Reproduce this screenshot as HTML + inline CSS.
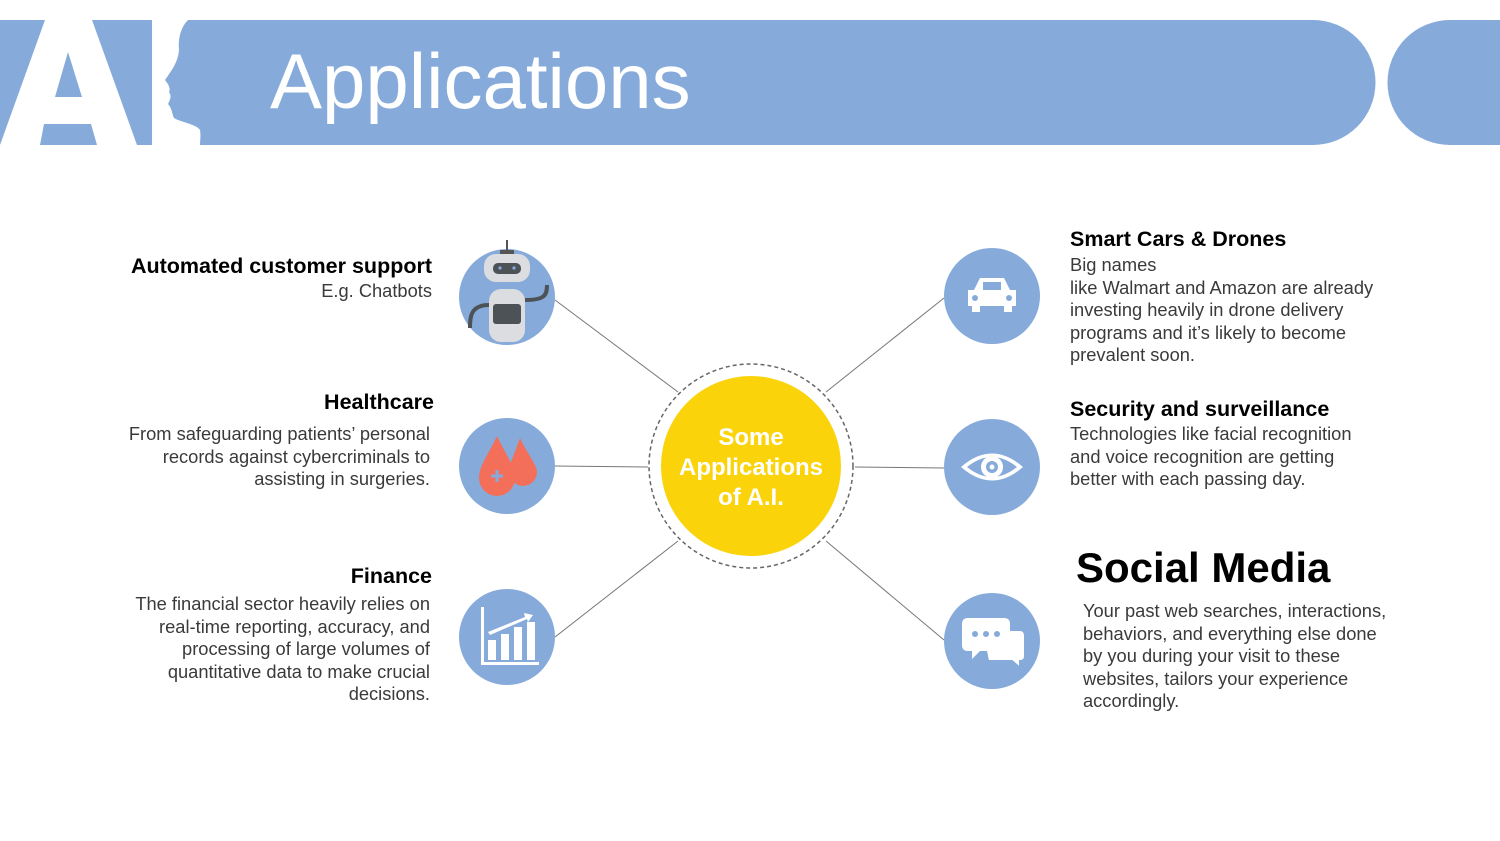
<!DOCTYPE html>
<html><head><meta charset="utf-8"><style>
body{margin:0;width:1500px;height:841px;background:#fff;position:relative;overflow:hidden;font-family:"Liberation Sans",Arial,sans-serif}
.t{position:absolute;color:#000;font-weight:bold;font-size:21.5px}
.b{position:absolute;color:#3a3a3a;font-size:18.3px;line-height:22.5px}
.r{text-align:right}
</style></head><body>
<svg width="1500" height="841" style="position:absolute;left:0;top:0">
<g>
<path d="M0 20 H1313 A62.5 62.5 0 0 1 1313 145 H0 Z" fill="#86abdb"/>
<path d="M1450 20 H1500 V145 H1450 A62.5 62.5 0 0 1 1450 20 Z" fill="#86abdb"/>
<path fill="#fff" fill-rule="evenodd" d="M45 20 H92 L137 145 H97 L91 124 H44 L40 145 H0 Z M68 52 L55 97 H82 Z"/>
<path d="M152 20 H188 C180 28 178 40 179 50 C178 62 172 70 165 80 C168 84 171 88 169 92 C172 96 170 100 168 104 C172 108 172 114 174 118 C180 122 196 124 200 130 C201 136 200 140 200 145 H152 Z" fill="#fff"/>
</g>
<g stroke="#777" stroke-width="1">
<line x1="555" y1="300" x2="678" y2="392"/><line x1="555" y1="466" x2="648" y2="467"/><line x1="555" y1="637" x2="678" y2="541"/>
<line x1="826" y1="392" x2="944" y2="298"/><line x1="855" y1="467" x2="944" y2="468"/><line x1="826" y1="541" x2="944" y2="640"/>
</g>
<circle cx="751" cy="466" r="102" fill="none" stroke="#666" stroke-width="1.5" stroke-dasharray="4 3"/>
<circle cx="751" cy="466" r="90" fill="#fad30a"/>
<text font-family="Liberation Sans" font-weight="bold" font-size="24" fill="#fff" text-anchor="middle"><tspan x="751" y="445">Some</tspan><tspan x="751" y="475">Applications</tspan><tspan x="751" y="505">of A.I.</tspan></text>
<g fill="#86abdb">
<circle cx="507" cy="297" r="48"/>
<circle cx="507" cy="466" r="48"/>
<circle cx="507" cy="637" r="48"/>
<circle cx="992" cy="296" r="48"/>
<circle cx="992" cy="467" r="48"/>
<circle cx="992" cy="641" r="48"/>
</g>
<g>
<line x1="507" y1="240" x2="507" y2="252" stroke="#555" stroke-width="2"/>
<rect x="500" y="250" width="14" height="5" fill="#555"/>
<rect x="484" y="254" width="46" height="28" rx="12" fill="#dcdde0"/>
<rect x="493" y="263" width="28" height="11" rx="5" fill="#4d5257"/>
<circle cx="500" cy="268" r="1.6" fill="#86abdb"/><circle cx="514" cy="268" r="1.6" fill="#86abdb"/>
<rect x="489" y="289" width="36" height="53" rx="12" fill="#dcdde0"/>
<rect x="493" y="304" width="28" height="20" rx="3" fill="#4d5257"/>
<path d="M489 305 C470 305 470 318 470 328" stroke="#4d5257" stroke-width="4" fill="none"/>
<path d="M525 300 C545 300 547 295 547 285" stroke="#4d5257" stroke-width="4" fill="none"/>
</g>
<path d="M520 438 C528 455 537 465 537 472 A14 14 0 0 1 509 472 C509 465 514 455 520 438Z" fill="#f36f5a"/>
<path d="M497 436 C506 455 515 466 515 478 A18 18 0 0 1 479 478 C479 466 488 455 497 436Z" fill="#f36f5a"/>
<path d="M497 470 V482 M491 476 H503" stroke="#86abdb" stroke-width="3"/>
<g fill="#fff">
<rect x="481" y="607" width="3" height="58"/><rect x="481" y="662" width="58" height="3"/>
<rect x="488" y="640" width="8" height="20"/><rect x="501" y="634" width="8" height="26"/><rect x="514" y="627" width="8" height="33"/><rect x="527" y="622" width="8" height="38"/>
<path d="M488 632 L525 617 L524 613 L533 615 L528 622 L527 619 L490 635Z"/>
</g>
<g fill="#fff">
<path d="M974 290 L980 278 H1004 L1010 290 H1016 V306 H968 V290Z"/>
<rect x="972" y="306" width="8" height="6"/><rect x="1004" y="306" width="8" height="6"/>
<rect x="983" y="282" width="18" height="8" fill="#86abdb"/>
<circle cx="975" cy="298" r="3" fill="#86abdb"/><circle cx="1009" cy="298" r="3" fill="#86abdb"/>
</g>
<path d="M961 467 Q992 440 1023 467 Q992 494 961 467Z" fill="#fff"/>
<path d="M967 467 Q992 447 1017 467 Q992 487 967 467Z" fill="#86abdb"/>
<circle cx="992" cy="467" r="11" fill="#fff"/><circle cx="992" cy="467" r="6" fill="#86abdb"/><circle cx="992" cy="467" r="2.5" fill="#fff"/>
<g>
<path d="M982 630 H1020 Q1025 630 1025 636 V656 Q1025 661 1020 661 V668 L1012 661 H988 Z" fill="#fff" stroke="#86abdb" stroke-width="2"/>
<path d="M968 618 H1004 Q1010 618 1010 624 V645 Q1010 651 1004 651 H980 L972 659 V651 H968 Q962 651 962 645 V624 Q962 618 968 618Z" fill="#fff"/>
<circle cx="975" cy="634" r="3" fill="#86abdb"/><circle cx="986" cy="634" r="3" fill="#86abdb"/><circle cx="997" cy="634" r="3" fill="#86abdb"/>
</g>
</svg>
<div style="position:absolute;left:270px;top:36px;color:#fff;font-size:78px;line-height:90px">Applications</div>

<div class="t r" style="right:1068px;top:254px">Automated customer support</div>
<div class="b r" style="right:1068px;top:280px">E.g. Chatbots</div>
<div class="t r" style="right:1066px;top:390px">Healthcare</div>
<div class="b r" style="right:1070px;top:423px">From safeguarding patients’ personal<br>records against cybercriminals to<br>assisting in surgeries.</div>
<div class="t r" style="right:1068px;top:564px">Finance</div>
<div class="b r" style="right:1070px;top:593px">The financial sector heavily relies on<br>real-time reporting, accuracy, and<br>processing of large volumes of<br>quantitative data to make crucial<br>decisions.</div>

<div class="t" style="left:1070px;top:227px">Smart Cars &amp; Drones</div>
<div class="b" style="left:1070px;top:254px">Big names<br>like Walmart and Amazon are already<br>investing heavily in drone delivery<br>programs and it’s likely to become<br>prevalent soon.</div>
<div class="t" style="left:1070px;top:397px">Security and surveillance</div>
<div class="b" style="left:1070px;top:423px">Technologies like facial recognition<br>and voice recognition are getting<br>better with each passing day.</div>
<div class="t" style="left:1076px;top:544px;font-size:42px;letter-spacing:0">Social Media</div>
<div class="b" style="left:1083px;top:600px">Your past web searches, interactions,<br>behaviors, and everything else done<br>by you during your visit to these<br>websites, tailors your experience<br>accordingly.</div>
</body></html>
